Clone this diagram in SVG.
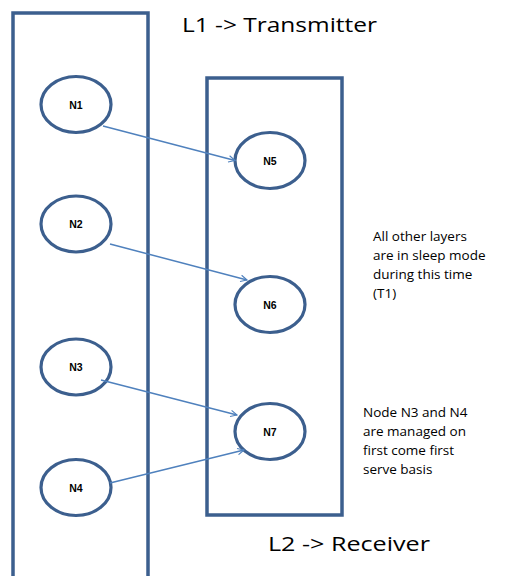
<svg xmlns="http://www.w3.org/2000/svg" width="512" height="576" viewBox="0 0 512 576">
  <style>
    .layer { fill: none; stroke: #3c5f8e; stroke-width: 3.5; }
    .node ellipse { fill: #ffffff; stroke: #3c5f8e; stroke-width: 3.2; }
    .node text { font-family: "Liberation Sans", Arial, sans-serif; font-weight: bold; font-size: 10.5px; fill: #000; text-anchor: middle; }
    .link { stroke: #4f81bd; stroke-width: 1.5; fill: none; marker-end: url(#open); }
    .title { font-family: "Open Sans", "Liberation Sans", sans-serif; font-size: 20px; fill: #000; }
    .note { font-family: "Open Sans", "Liberation Sans", sans-serif; font-size: 13.5px; fill: #000; }
  </style>
  <defs>
    <marker id="open" viewBox="0 0 10 10" refX="9" refY="5" markerWidth="8" markerHeight="8" markerUnits="userSpaceOnUse" orient="auto">
      <path d="M1,1 L9,5 L1,9" fill="none" stroke="#4f81bd" stroke-width="1.4"/>
    </marker>
  </defs>
  <rect width="512" height="576" fill="#ffffff"/>

  <!-- layers -->
  <g id="layer-l1">
    <path class="layer" d="M13,580 V13 H148 V580"/>
  </g>
  <g id="layer-l2">
    <rect class="layer" x="207" y="78" width="135" height="437"/>
  </g>

  <!-- nodes -->
  <g id="n1" class="node"><ellipse cx="76" cy="104.5" rx="35" ry="28"/><text x="76" y="108.5">N1</text></g>
  <g id="n2" class="node"><ellipse cx="76" cy="224" rx="35" ry="28"/><text x="76" y="228">N2</text></g>
  <g id="n3" class="node"><ellipse cx="76" cy="367" rx="35" ry="28"/><text x="76" y="371">N3</text></g>
  <g id="n4" class="node"><ellipse cx="76" cy="487.5" rx="35" ry="28"/><text x="76" y="491.5">N4</text></g>
  <g id="n5" class="node"><ellipse cx="270" cy="160.5" rx="35" ry="28"/><text x="270" y="164.5">N5</text></g>
  <g id="n6" class="node"><ellipse cx="270" cy="304.5" rx="35" ry="28"/><text x="270" y="308.5">N6</text></g>
  <g id="n7" class="node"><ellipse cx="270" cy="431.5" rx="35" ry="28"/><text x="270" y="435.5">N7</text></g>

  <!-- connectors -->
  <g id="connectors">
    <line class="link" x1="103" y1="126" x2="235" y2="160.5"/>
    <line class="link" x1="110" y1="244" x2="247" y2="280"/>
    <line class="link" x1="101" y1="380" x2="237" y2="415"/>
    <line class="link" x1="110" y1="483" x2="244" y2="450"/>
  </g>

  <!-- labels -->
  <text class="title" x="182" y="32" textLength="195" lengthAdjust="spacingAndGlyphs">L1 -&gt; Transmitter</text>
  <text class="title" x="268" y="551" textLength="162" lengthAdjust="spacingAndGlyphs">L2 -&gt; Receiver</text>

  <g id="note-sleep" class="note">
    <text x="373" y="241">All other layers</text>
    <text x="373" y="260">are in sleep mode</text>
    <text x="373" y="279">during this time</text>
    <text x="373" y="298">(T1)</text>
  </g>
  <g id="note-fcfs" class="note">
    <text x="363" y="417">Node N3 and N4</text>
    <text x="363" y="436">are managed on</text>
    <text x="363" y="455">first come first</text>
    <text x="363" y="474">serve basis</text>
  </g>
</svg>
